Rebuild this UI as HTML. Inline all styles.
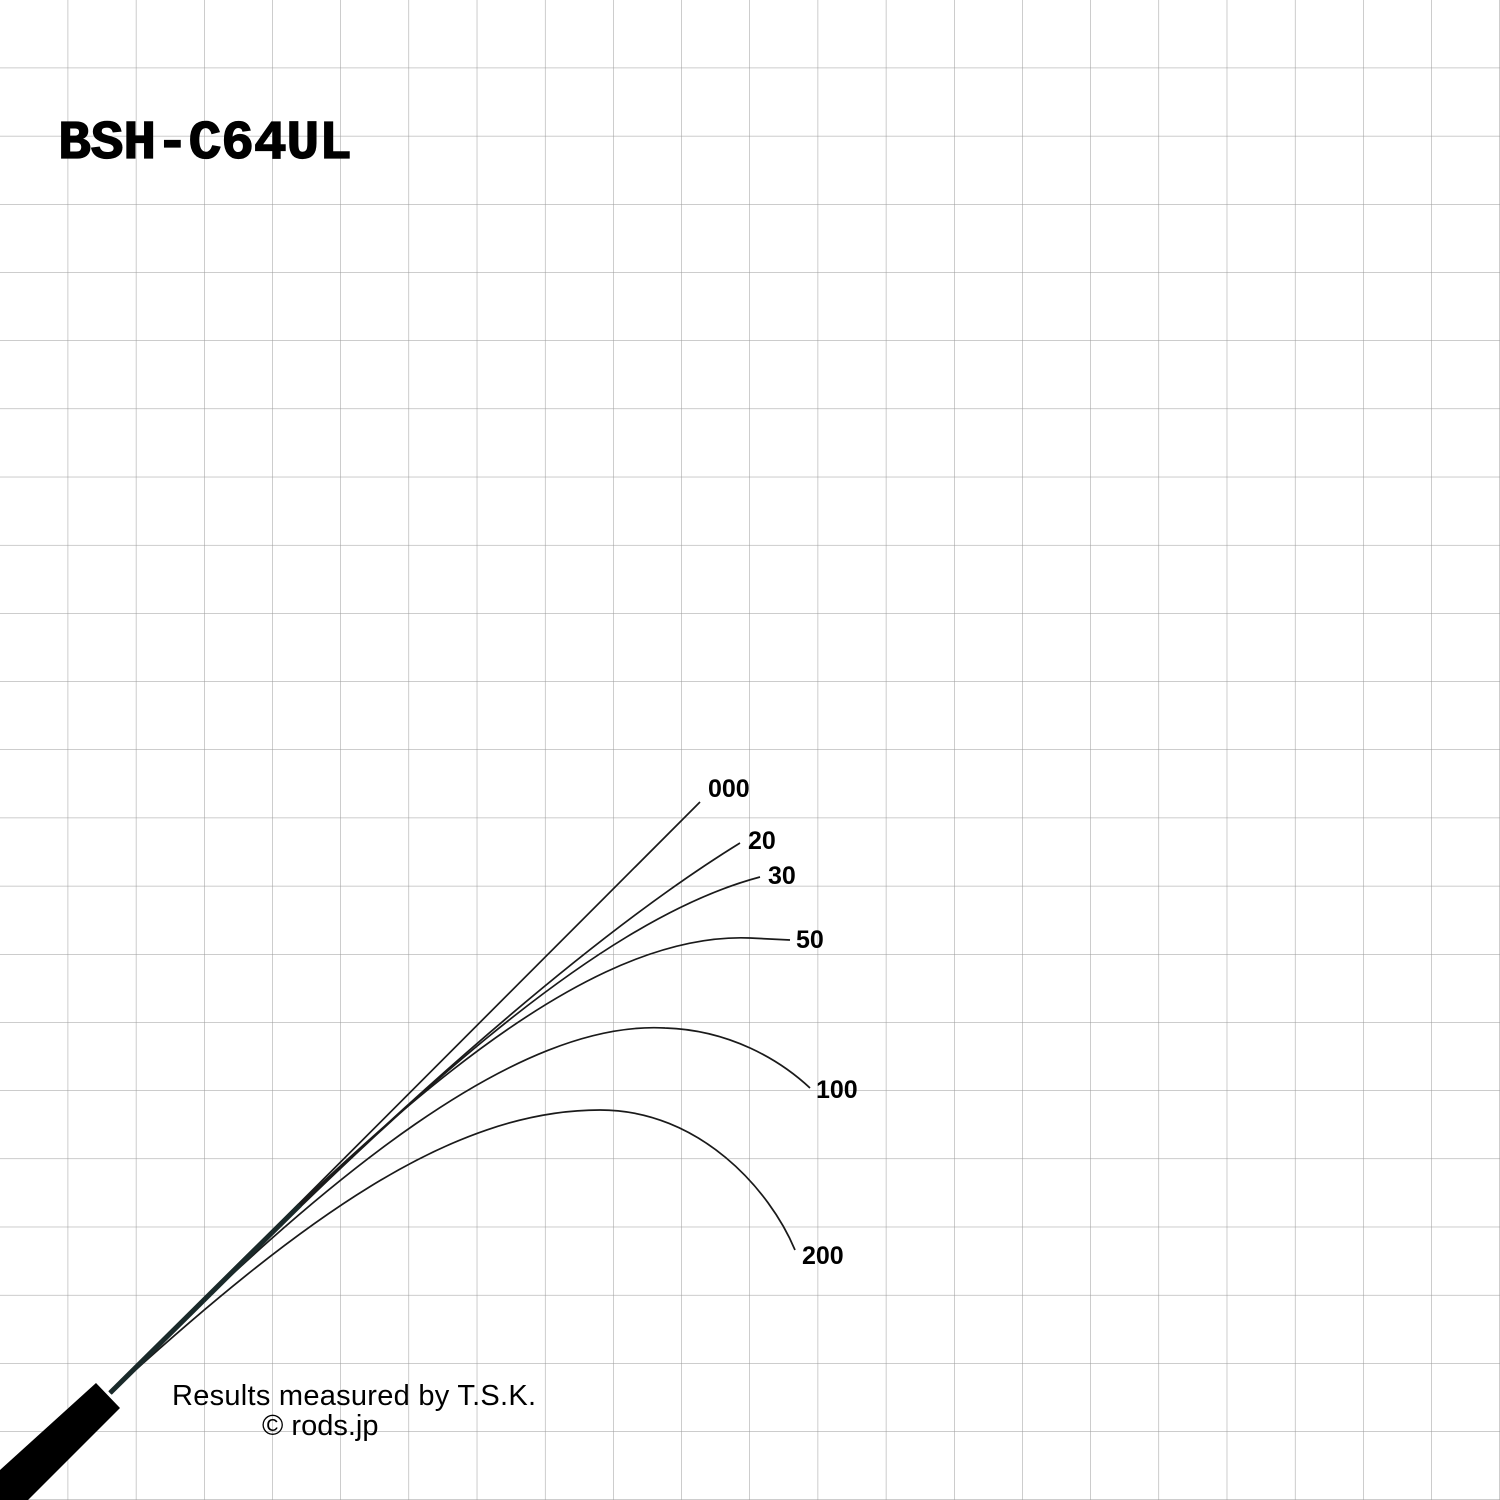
<!DOCTYPE html>
<html><head><style>
html,body{margin:0;padding:0;background:#fff;}
svg{display:block}
</style></head><body>
<svg width="1500" height="1500" viewBox="0 0 1500 1500" xmlns="http://www.w3.org/2000/svg">
<defs>
<pattern id="g" width="68.18" height="68.18" patternUnits="userSpaceOnUse" x="0" y="0">
<path d="M68.18 0V68.18M0 68.18H68.18" stroke="#9a9a9a" stroke-width="1" fill="none"/>
</pattern>
</defs>
<rect width="1500" height="1500" fill="url(#g)"/>
<text x="58" y="158" font-family="Liberation Mono, monospace" font-weight="bold" font-size="55" fill="#000" stroke="#000" stroke-width="1.2" textLength="294">BSH-C64UL</text>
<g fill="none" stroke="#1a1a1a" stroke-width="1.7">
<path d="M110 1393 L700 802"/>
<path d="M110 1393 C300 1200 550 960 740 843"/>
<path d="M110 1393 C320 1190 560 930 760 877"/>
<path d="M110 1393 C330 1170 560 930 750 938 L790 940"/>
<path d="M110 1393 C330 1170 520 1020 665 1028 C730 1030 780 1060 810 1088"/>
<path d="M110 1393 C300 1220 450 1110 600 1110 C700 1110 770 1190 795 1250"/>
</g>
<path d="M110 1393 L300 1205" stroke="#1a2a2a" stroke-width="5" fill="none"/>
<polygon points="0,1470 96,1383 120,1408 28,1500 0,1500" fill="#000"/>
<g font-family="Liberation Sans, sans-serif" font-weight="bold" font-size="25" fill="#000">
<text x="708" y="797">000</text>
<text x="748" y="849">20</text>
<text x="768" y="884">30</text>
<text x="796" y="948">50</text>
<text x="816" y="1098">100</text>
<text x="802" y="1264">200</text>
</g>
<g font-family="Liberation Sans, sans-serif" font-size="29" fill="#000">
<text x="172" y="1405" textLength="364">Results measured by T.S.K.</text>
<text x="262" y="1435">© rods.jp</text>
</g>
</svg>
</body></html>
